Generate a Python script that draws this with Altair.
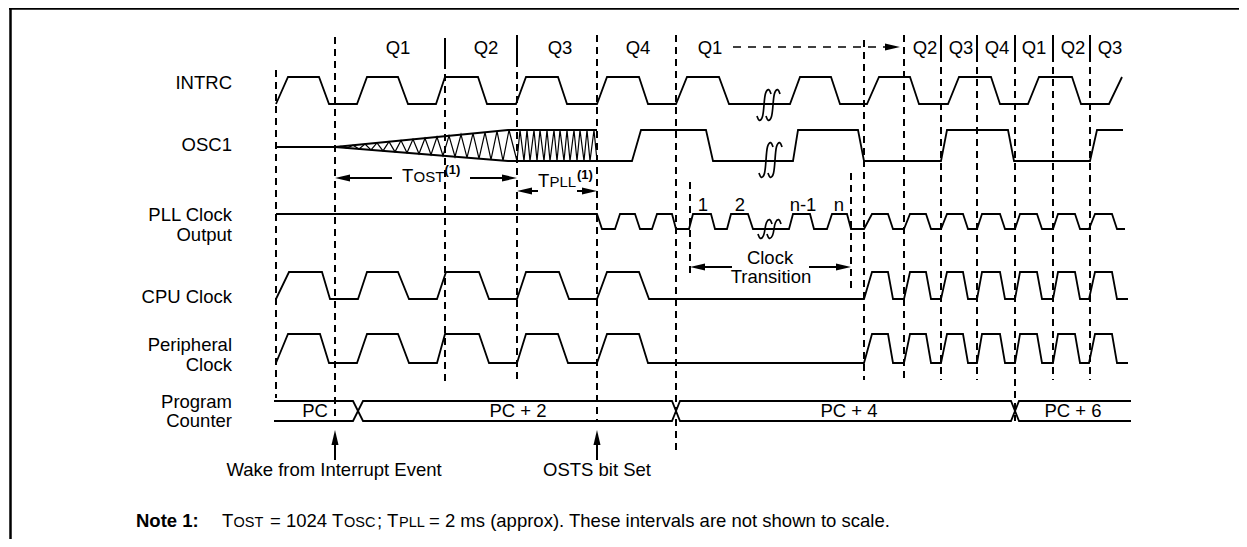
import altair as alt
import pandas as pd

FONT = "Liberation Sans"
FS = 18.5

# ---------------- signal rows: (high level y, low level y) ----------------
ROW_IDS = ["INTRC", "OSC1", "PLL", "CPU", "PERIPH"]
ROW_HIGH = [77, 130, 214, 272, 334]
ROW_LOW = [104, 161, 229, 299, 363]

# ---------------- waveform edges (time, logic level) ----------------
INTRC_T = [276, 288, 319, 329, 357, 367, 398, 408, 436, 445, 478, 487, 516, 526, 558, 567,
           597, 607, 639, 648, 676, 687, 719, 729, 790, 800, 831, 840, 867, 879, 910, 919,
           948, 959, 991, 1000, 1028, 1039, 1072, 1081, 1109, 1122]
INTRC_L = [0, 1, 1, 0, 0, 1, 1, 0, 0, 1, 1, 0, 0, 1, 1, 0,
           0, 1, 1, 0, 0, 1, 1, 0, 0, 1, 1, 0, 0, 1, 1, 0,
           0, 1, 1, 0, 0, 1, 1, 0, 0, 1]

OSC1_T = [597, 632, 641, 706, 713, 793, 798, 858, 864, 941, 947, 1008, 1014, 1090, 1097, 1123]
OSC1_L = [0, 0, 1, 1, 0, 0, 1, 1, 0, 0, 1, 1, 0, 0, 1, 1]

PLL_T = [276, 597, 602, 615, 620, 635, 640, 652, 657, 672, 676, 689, 693, 711, 715, 727,
         731, 748, 753, 789, 793, 810, 814, 827, 832, 847, 851, 864, 872, 888, 893, 904,
         910, 926, 931, 941, 947, 963, 968, 977, 982, 1000, 1005, 1015, 1020, 1037, 1042, 1053,
         1058, 1075, 1080, 1089, 1095, 1112, 1117, 1125]
PLL_L = [1, 1, 0, 0] * 14

CPU_T = [276, 289, 322, 330, 358, 367, 398, 409, 437, 446, 479, 489, 517, 526, 559, 569,
         597, 607, 639, 649, 864, 872, 888, 893, 904, 910, 926, 931, 941, 947, 963, 968,
         977, 982, 1000, 1005, 1015, 1020, 1037, 1042, 1053, 1058, 1075, 1080, 1089, 1095,
         1112, 1117, 1128]
CPU_L = [0, 1, 1, 0] * 12 + [0]

PERIPH_T = [276, 288, 320, 329, 357, 367, 398, 409, 437, 445, 479, 489, 517, 526, 558, 568,
            597, 607, 639, 648, 864, 872, 888, 893, 904, 910, 926, 931, 941, 947, 963, 968,
            977, 982, 1000, 1005, 1015, 1020, 1037, 1042, 1053, 1058, 1075, 1080, 1089, 1095,
            1112, 1117, 1128]
PERIPH_L = [0, 1, 1, 0] * 12 + [0]

# OSC1 start-up: idle line, growing envelope (Tost) and PLL lock (Tpll)
OSC_IDLE_X = [276, 335]
OSC_IDLE_Y = [147, 147]
ENV_TOP_X = [335, 508, 597]
ENV_TOP_Y = [147, 130, 130]
ENV_BOT_X = [335, 508, 597]
ENV_BOT_Y = [147, 161, 161]
OST_ZZ_X = [335, 341, 347, 353, 359, 365, 371, 377, 383, 389, 395, 401, 407, 413, 419, 425,
            431, 437, 443, 449, 455, 461, 467, 473, 479, 485, 491, 497, 503, 509, 517]
OST_ZZ_Y = [147, 146.4, 148, 145.2, 148.9, 144.1, 149.9, 142.9, 150.9, 141.7, 151.9, 140.5,
            152.8, 139.3, 153.8, 138.2, 154.8, 137, 155.7, 135.8, 156.7, 134.6, 157.7, 133.4,
            158.7, 132.3, 159.6, 131.1, 160.6, 130, 161]
PLL_ZZ_X = [517, 520, 524, 527, 530, 534, 537, 540, 544, 547, 550, 554, 557, 560, 564, 567,
            570, 574, 577, 580, 584, 587, 590, 594, 597]
PLL_ZZ_Y = [161, 130, 161, 130, 161, 130, 161, 130, 161, 130, 161, 130, 161, 130, 161, 130,
            161, 130, 161, 130, 161, 130, 161, 130, 161]

# Program counter bus
BUS_X = [274, 353, 363, 672, 680, 1011, 1019, 1131]
BUS_A_Y = [401, 401, 421, 421, 401, 401, 421, 421]
BUS_B_Y = [421, 421, 401, 401, 421, 421, 401, 401]
BUS_LABELS = ["PC", "PC + 2", "PC + 4", "PC + 6"]
BUS_LABEL_X = [315, 518, 849, 1073]

# Q-cycle boundaries (dashed guides)
GUIDE_X = [276, 335, 445, 517, 597, 676, 690, 851, 864, 904, 941, 977, 1015, 1053, 1090]
GUIDE_TOP = [70, 37, 62, 60, 35, 35, 182, 173, 40, 35, 55, 55, 55, 55, 55]
GUIDE_BOT = [398, 416, 383, 383, 421, 452, 277, 288, 380, 380, 380, 380, 421, 380, 380]
SEP_X = [445, 517, 941, 977, 1015, 1053, 1090]
SEP_TOP = [38, 35, 35, 35, 35, 35, 35]
SEP_BOT = [62, 60, 55, 55, 55, 55, 55]

Q_LABELS = ["Q1", "Q2", "Q3", "Q4", "Q1", "Q2", "Q3", "Q4", "Q1", "Q2", "Q3"]
Q_X = [398, 486, 560, 638, 710, 925, 961, 997, 1034, 1073, 1110]

ROW_LABELS = ["INTRC", "OSC1", "PLL Clock", "Output", "CPU Clock", "Peripheral", "Clock",
              "Program", "Counter"]
ROW_LABEL_Y = [83, 145, 215, 235, 297, 345, 365, 402, 421]

CENTER_TEXT = ["1", "2", "n-1", "n", "Clock", "Transition",
               "Wake from Interrupt Event", "OSTS bit Set"]
CENTER_X = [703, 740, 803, 839, 770, 771, 334, 597]
CENTER_Y = [205, 205, 205, 205, 258, 277, 470, 470]

LEFT_TEXT = ["T", "OST", "T", "PLL", "T", "OST", "= 1024 T", "OSC", "; T", "PLL",
             "= 2 ms (approx). These intervals are not shown to scale."]
LEFT_X = [402, 413.5, 538, 549.5, 222, 233.5, 270, 344, 377, 399, 429]
LEFT_Y = [182, 182, 187, 187, 527, 527, 527, 527, 527, 527, 527]
LEFT_SIZE = [18.5, 15, 18.5, 15, 18.5, 14.5, 18.5, 14.5, 18.5, 14.5, 18.5]

BOLD_TEXT = ["(1)", "(1)", "Note 1:"]
BOLD_X = [444.5, 577, 136]
BOLD_Y = [174, 179, 527]
BOLD_SIZE = [13, 13, 18.5]

# arrows
HARROW_X1 = [341, 470, 523, 577, 696, 809]
HARROW_X2 = [392, 511, 538, 591, 732, 845]
HARROW_Y = [178, 178, 191, 191, 267, 267]
VARROW_X = [335, 597]
VARROW_Y1 = [436, 436]
VARROW_Y2 = [460, 460]
QARROW_X1 = [733]
QARROW_X2 = [889]
QARROW_Y = [47]
HEAD_X = [335, 517, 517, 597, 690, 851, 900, 335, 597]
HEAD_Y = [178, 178, 191, 191, 267, 267, 47, 430, 430]
HEAD_ANGLE = [180, 0, 180, 0, 180, 0, 0, 270, 270]

# break symbols (cx, cy, height)
BREAK_X = [764, 773, 766, 775, 765, 774]
BREAK_Y = [105, 105, 160, 160, 229, 229]
BREAK_H = [30, 30, 34, 34, 18, 18]

# ---------------- scales ----------------
XS = alt.Scale(domain=[8, 1239], nice=False, zero=False)
YS = alt.Scale(domain=[8, 539], nice=False, zero=False, reverse=True)


def X(f="x"):
    return alt.X(f"{f}:Q", scale=XS, axis=None)


def Y(f="y"):
    return alt.Y(f"{f}:Q", scale=YS, axis=None)


def path_df(name, xs, ys):
    return pd.DataFrame({"id": name, "i": list(range(len(xs))), "x": xs, "y": ys})


def wave(name, ts, ls, hi, lo):
    return path_df(name, ts, [hi if l else lo for l in ls])


# waveform table
waves = pd.concat([
    wave("INTRC", INTRC_T, INTRC_L, ROW_HIGH[0], ROW_LOW[0]),
    wave("OSC1", OSC1_T, OSC1_L, ROW_HIGH[1], ROW_LOW[1]),
    wave("PLL", PLL_T, PLL_L, ROW_HIGH[2], ROW_LOW[2]),
    wave("CPU", CPU_T, CPU_L, ROW_HIGH[3], ROW_LOW[3]),
    wave("PERIPH", PERIPH_T, PERIPH_L, ROW_HIGH[4], ROW_LOW[4]),
    path_df("idle", OSC_IDLE_X, OSC_IDLE_Y),
    path_df("envtop", ENV_TOP_X, ENV_TOP_Y),
    path_df("envbot", ENV_BOT_X, ENV_BOT_Y),
    path_df("busA", BUS_X, BUS_A_Y),
    path_df("busB", BUS_X, BUS_B_Y),
])

zigzag = pd.concat([
    path_df("ost", OST_ZZ_X, OST_ZZ_Y),
    path_df("pll", PLL_ZZ_X, PLL_ZZ_Y),
])

# break symbol curves
brk_rows = []
for k, (cx, cy, h) in enumerate(zip(BREAK_X, BREAK_Y, BREAK_H)):
    pts = [(cx + 7, cy - h / 2 + 4), (cx + 5, cy - h / 2 - 2), (cx + 1, cy - h / 2 + 2),
           (cx, cy), (cx - 1, cy + h / 2 - 2), (cx - 5, cy + h / 2 + 2),
           (cx - 7, cy + h / 2 - 4)]
    for j, (px, py) in enumerate(pts):
        brk_rows.append({"id": k, "i": j, "x": px, "y": py})
breaks = pd.DataFrame(brk_rows)

line_enc = dict(x=X(), y=Y(), detail=alt.Detail("id:N"), order=alt.Order("i:Q"))

wave_layer = alt.Chart(waves).mark_line(color="black", strokeWidth=1.8).encode(**line_enc)
zz_layer = alt.Chart(zigzag).mark_line(color="black", strokeWidth=1.2).encode(**line_enc)
brk_layer = alt.Chart(breaks).mark_line(color="black", strokeWidth=1.7, interpolate="basis").encode(**line_enc)

guides = pd.DataFrame({"x": GUIDE_X, "y": GUIDE_TOP, "y2": GUIDE_BOT})
guide_layer = alt.Chart(guides).mark_rule(color="black", strokeWidth=2, strokeDash=[7, 5]).encode(
    x=X(), y=Y(), y2=alt.Y2("y2:Q"))
seps = pd.DataFrame({"x": SEP_X, "y": SEP_TOP, "y2": SEP_BOT})
sep_layer = alt.Chart(seps).mark_rule(color="black", strokeWidth=2).encode(
    x=X(), y=Y(), y2=alt.Y2("y2:Q"))

# frame
frame_h = pd.DataFrame({"x": [9], "x2": [1239], "y": [8.5]})
frame_v = pd.DataFrame({"x": [10.5], "y": [8], "y2": [539]})
frame_h_layer = alt.Chart(frame_h).mark_rule(color="black", strokeWidth=2.5).encode(
    x=X(), x2=alt.X2("x2:Q"), y=Y())
frame_v_layer = alt.Chart(frame_v).mark_rule(color="black", strokeWidth=2.5).encode(
    x=X(), y=Y(), y2=alt.Y2("y2:Q"))

# arrows
harrows = pd.DataFrame({"x": HARROW_X1, "x2": HARROW_X2, "y": HARROW_Y})
harrow_layer = alt.Chart(harrows).mark_rule(color="black", strokeWidth=2).encode(
    x=X(), x2=alt.X2("x2:Q"), y=Y())
varrows = pd.DataFrame({"x": VARROW_X, "y": VARROW_Y1, "y2": VARROW_Y2})
varrow_layer = alt.Chart(varrows).mark_rule(color="black", strokeWidth=2).encode(
    x=X(), y=Y(), y2=alt.Y2("y2:Q"))
qarrow = pd.DataFrame({"x": QARROW_X1, "x2": QARROW_X2, "y": QARROW_Y})
qarrow_layer = alt.Chart(qarrow).mark_rule(color="black", strokeWidth=1.7, strokeDash=[8, 7]).encode(
    x=X(), x2=alt.X2("x2:Q"), y=Y())
heads = pd.DataFrame({"x": HEAD_X, "y": HEAD_Y, "a": HEAD_ANGLE})
head_layer = alt.Chart(heads).mark_point(
    shape="M0,0L-2,-0.47L-2,0.47Z", filled=True, size=225, color="black", opacity=1, strokeWidth=0
).encode(x=X(), y=Y(), angle=alt.Angle("a:Q", scale=None))

# texts
rowlab = pd.DataFrame({"t": ROW_LABELS, "x": 232, "y": ROW_LABEL_Y})
rowlab_layer = alt.Chart(rowlab).mark_text(
    align="right", baseline="middle", font=FONT, fontSize=FS, color="black"
).encode(x=X(), y=Y(), text="t:N")

qlab = pd.DataFrame({"t": Q_LABELS, "x": Q_X, "y": 48})
buslab = pd.DataFrame({"t": BUS_LABELS, "x": BUS_LABEL_X, "y": 411})
ctr = pd.DataFrame({"t": CENTER_TEXT, "x": CENTER_X, "y": CENTER_Y})
center_all = pd.concat([qlab, buslab, ctr])
center_layer = alt.Chart(center_all).mark_text(
    align="center", baseline="middle", font=FONT, fontSize=FS, color="black"
).encode(x=X(), y=Y(), text="t:N")

left = pd.DataFrame({"t": LEFT_TEXT, "x": LEFT_X, "y": LEFT_Y, "s": LEFT_SIZE})
left_layer = alt.Chart(left).mark_text(
    align="left", baseline="alphabetic", font=FONT, color="black"
).encode(x=X(), y=Y(), text="t:N", size=alt.Size("s:Q", scale=None))

bold = pd.DataFrame({"t": BOLD_TEXT, "x": BOLD_X, "y": BOLD_Y, "s": BOLD_SIZE})
bold_layer = alt.Chart(bold).mark_text(
    align="left", baseline="alphabetic", font=FONT, fontWeight="bold", color="black"
).encode(x=X(), y=Y(), text="t:N", size=alt.Size("s:Q", scale=None))

chart = alt.layer(
    frame_h_layer, frame_v_layer, guide_layer, sep_layer,
    wave_layer, zz_layer, brk_layer,
    harrow_layer, varrow_layer, qarrow_layer, head_layer,
    rowlab_layer, center_layer, left_layer, bold_layer,
).properties(
    width=1231, height=531,
    autosize=alt.AutoSizeParams(type="none"),
    padding=0,
    background="white",
).configure_view(strokeWidth=0)

chart.save("out.html", embed_options={"renderer": "svg", "actions": False})
